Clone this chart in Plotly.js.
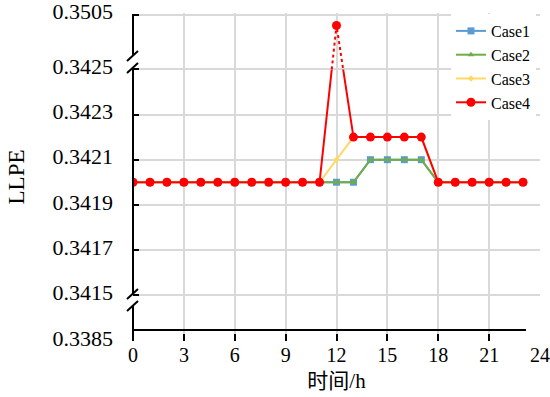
<!DOCTYPE html>
<html>
<head>
<meta charset="utf-8">
<script src="https://cdn.plot.ly/plotly-3.0.1.min.js"></script>
<style>html,body{margin:0;padding:0;background:#fff;}#chart{width:550px;height:397px;}</style>
</head>
<body>
<div id="chart"></div>
<script>
// ---- data ----
const hours = [0,1,2,3,4,5,6,7,8,9,10,11,12,13,14,15,16,17,18,19,20,21,22,23];
const case1 = [0.3420,0.3420,0.3420,0.3420,0.3420,0.3420,0.3420,0.3420,0.3420,0.3420,0.3420,0.3420,0.3420,0.3420,0.3421,0.3421,0.3421,0.3421,0.3420,0.3420,0.3420,0.3420,0.3420,0.3420];
const case2 = [0.3420,0.3420,0.3420,0.3420,0.3420,0.3420,0.3420,0.3420,0.3420,0.3420,0.3420,0.3420,0.3420,0.3420,0.3421,0.3421,0.3421,0.3421,0.3420,0.3420,0.3420,0.3420,0.3420,0.3420];
const case3 = [0.3420,0.3420,0.3420,0.3420,0.3420,0.3420,0.3420,0.3420,0.3420,0.3420,0.3420,0.3420,0.3421,0.3422,0.3422,0.3422,0.3422,0.3422,0.3420,0.3420,0.3420,0.3420,0.3420,0.3420];
const case4 = [0.3420,0.3420,0.3420,0.3420,0.3420,0.3420,0.3420,0.3420,0.3420,0.3420,0.3420,0.3420,0.3489,0.3422,0.3422,0.3422,0.3422,0.3422,0.3420,0.3420,0.3420,0.3420,0.3420,0.3420];
const seriesNames = ['Case1','Case2','Case3','Case4'];
const yTickVals = [0.3385,0.3415,0.3417,0.3419,0.3421,0.3423,0.3425,0.3505];
const yTickText = ['0.3385','0.3415','0.3417','0.3419','0.3421','0.3423','0.3425','0.3505'];
const xTickVals = [0,3,6,9,12,15,18,21,24];

// ---- broken-axis scale (piecewise linear) ----
const segBounds = [0.3385, 0.3415, 0.3425, 0.3505];
const segLen = [46, 226, 55];
const total = segLen.reduce((a,b)=>a+b,0);
function brk(v){
  let base = 0;
  for (let i=0;i<segLen.length;i++){
    const a = segBounds[i], b = segBounds[i+1];
    if (v <= b || i === segLen.length-1){
      return Math.round((base + (v - a)/(b - a)*segLen[i])*1e6)/1e6;
    }
    base += segLen[i];
  }
}
const splitT = brk(segBounds[2]);
const topR = total + 1.5;

const font = "Liberation Serif, 'Times New Roman', serif";
const colors = ['#5B9BD5','#70AD47','#FFD966','#FF0000'];

const traces = [
  {x:hours, y:case1.map(brk), name:seriesNames[0], mode:'lines+markers', xaxis:'x', yaxis:'y',
   line:{color:colors[0],width:2}, marker:{symbol:'square',size:7,color:colors[0]}, legendgroup:'a'},
  {x:hours, y:case2.map(brk), name:seriesNames[1], mode:'lines+markers', xaxis:'x', yaxis:'y',
   line:{color:colors[1],width:2}, marker:{symbol:'triangle-up',size:6,color:colors[1]}, legendgroup:'b'},
  {x:hours, y:case3.map(brk), name:seriesNames[2], mode:'lines+markers', xaxis:'x', yaxis:'y',
   line:{color:colors[2],width:2}, marker:{symbol:'diamond',size:5,color:colors[2]}, legendgroup:'c'},
  {x:hours, y:case4.map(brk), name:seriesNames[3], mode:'lines+markers', xaxis:'x2', yaxis:'y3',
   line:{color:colors[3],width:2}, marker:{symbol:'circle',size:9,color:colors[3]}, legendgroup:'d'},
  {x:hours, y:case4.map(brk), name:seriesNames[3], mode:'lines+markers', xaxis:'x2', yaxis:'y2', showlegend:false,
   line:{color:colors[3],width:2,dash:'dot'}, marker:{symbol:'circle',size:9,color:colors[3]}, legendgroup:'d'}
];

// decoration helpers (pixel -> paper)
const L=133, T=13, W=407, H=328;
const px = x => (x - L)/W;
const py = y => (T + H - y)/H;
function seg(x0,y0,x1,y1){return {type:'line',xref:'paper',yref:'paper',x0:px(x0),y0:py(y0),x1:px(x1),y1:py(y1),line:{color:'#000',width:2},layer:'above'};}
const shapes = [
  seg(133,14,133,56), seg(133,68,133,294), seg(133,306,133,341),
  seg(127,61,138,51), seg(127,73,138,63),
  seg(127,299,138,289), seg(127,311,138,301),
  seg(133,330,526,330)
];

const layout = {
  width:550, height:397,
  margin:{l:L, r:550-L-W, t:T, b:397-T-H},
  paper_bgcolor:'#fff', plot_bgcolor:'rgba(0,0,0,0)',
  showlegend:true,
  legend:{x:px(451), y:py(14), xanchor:'left', yanchor:'top', bgcolor:'#fff', borderwidth:0,
          font:{family:font,size:16,color:'#000'}, tracegroupgap:0},
  xaxis:{range:[0,24], domain:[0,1], anchor:'y', tickvals:xTickVals, ticks:'inside', ticklen:7, tickwidth:2, tickcolor:'#000',
         showgrid:true, gridcolor:'#d9d9d9', gridwidth:2, showline:false, zeroline:false,
         tickfont:{family:font,size:20,color:'#000'},
         title:{text:'时间/h', font:{family:"Liberation Serif, 'Noto Sans CJK SC', serif", size:21, color:'#000'}, standoff:8}},
  xaxis2:{range:[0,24], domain:[0,1], anchor:'y3', visible:false, showgrid:false},
  yaxis:{range:[0,topR], domain:[0,1], anchor:'x', tickvals:yTickVals.map(brk), ticktext:yTickText,
         ticks:'inside', ticklen:6, tickwidth:2, tickcolor:'#000', ticklabeloverflow:'allow',
         showgrid:true, gridcolor:'#d9d9d9', gridwidth:2, showline:false, zeroline:false,
         tickfont:{family:font,size:22,color:'#000'}, ticklabelstandoff:19, ticklabelshift:-3,
         title:{text:'LLPE', font:{family:font,size:23,color:'#000'}, standoff:21}},
  yaxis2:{range:[splitT,topR], domain:[splitT/topR,1], visible:false, showgrid:false, anchor:'x2'},
  yaxis3:{range:[0,splitT], domain:[0,splitT/topR], visible:false, showgrid:false, anchor:'x2'},
  shapes:shapes
};

Plotly.newPlot('chart', traces, layout, {displayModeBar:false, staticPlot:true});
</script>
</body>
</html>
